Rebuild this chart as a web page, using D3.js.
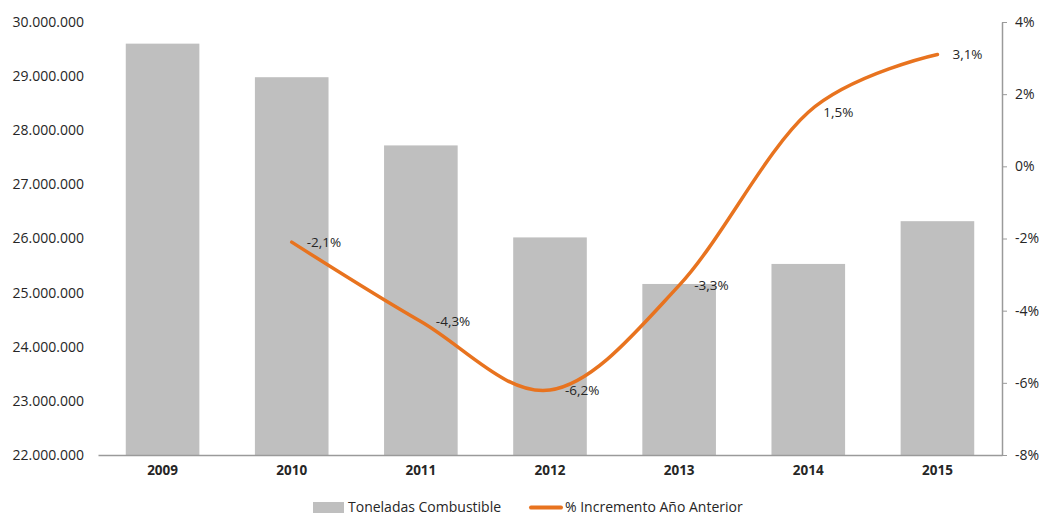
<!DOCTYPE html>
<html><head><meta charset="utf-8">
<script src="https://cdn.jsdelivr.net/npm/d3@7"></script>
<style>body{margin:0;background:#fff}svg{display:block}text{font-family:"Open Sans","Noto Sans",sans-serif;fill:#262626}</style>
</head><body><svg id="c" width="1043" height="515"></svg>
<script>
const years = ["2009","2010","2011","2012","2013","2014","2015"];
const toneladas = [29600000, 28980000, 27720000, 26020000, 25160000, 25530000, 26320000];
const pctYears = ["2010","2011","2012","2013","2014","2015"];
const pct = [-2.1, -4.3, -6.2, -3.3, 1.5, 3.1];
const leftTicks = [22000000,23000000,24000000,25000000,26000000,27000000,28000000,29000000,30000000];
const rightTicks = [-8,-6,-4,-2,0,2,4];
const seriesNames = ["Toneladas Combustible","% Incremento Año Anterior"];

const svg = d3.select("#c");
const L = 98, R = 1002, T = 22, B = 455;
const x = d3.scaleBand().domain(years).range([L, R]).paddingInner(0.43).paddingOuter(0.215);
const yL = d3.scaleLinear().domain([22000000, 30000000]).range([B, T]);
const yR = d3.scaleLinear().domain([-8, 4]).range([B, T]);
const fmt = v => d3.format(",")(v).replace(/,/g, ".");

svg.append("g").selectAll("rect").data(years).join("rect")
  .attr("x", d => x(d)).attr("width", x.bandwidth())
  .attr("y", (d,i) => yL(toneladas[i])).attr("height", (d,i) => B - yL(toneladas[i]))
  .attr("fill", "#bfbfbf");

// x axis
const gx = svg.append("g").attr("transform", `translate(0,${B})`)
  .call(d3.axisBottom(x).tickSize(0).tickPadding(10));
gx.select(".domain").attr("stroke", "#9a9a9a").attr("stroke-width", 1.5);
gx.selectAll("text").attr("font-size", 13.5).attr("font-weight", "bold").style("fill","#262626");

// left axis
const gl = svg.append("g").attr("transform", `translate(${L},0)`)
  .call(d3.axisLeft(yL).tickValues(leftTicks).tickFormat(fmt).tickSize(0).tickPadding(14));
gl.select(".domain").remove();
gl.selectAll("text").attr("font-size", 14).style("fill","#262626");

// right axis
const gr = svg.append("g").attr("transform", `translate(${R},0)`)
  .call(d3.axisRight(yR).tickValues(rightTicks).tickFormat(d => d + "%").tickSize(5).tickSizeOuter(0).tickPadding(8));
gr.select(".domain").attr("stroke", "#9a9a9a").attr("stroke-width", 1.5);
gr.selectAll("line").attr("stroke", "#9a9a9a");
gr.selectAll("text").attr("font-size", 14).style("fill","#262626");

// line
const cx = d => x(d) + x.bandwidth() / 2;
const line = d3.line().x((d,i) => cx(pctYears[i])).y(d => yR(d)).curve(d3.curveCatmullRom.alpha(0));
svg.append("path").datum(pct).attr("d", line).attr("fill", "none")
  .attr("stroke", "#e8731f").attr("stroke-width", 3.5).attr("stroke-linecap","round");

svg.append("g").selectAll("text").data(pct).join("text")
  .attr("x", (d,i) => cx(pctYears[i]) + 15).attr("y", d => yR(d)).attr("dy", "0.35em")
  .attr("font-size", 13.5).text(d => d.toFixed(1).replace(".", ",").replace("\u2212","-") + "%");

// legend
const lg = svg.append("g");
lg.append("rect").attr("x", 313).attr("y", 502).attr("width", 31).attr("height", 11).attr("fill", "#bfbfbf");
lg.append("text").attr("x", 348).attr("y", 507).attr("dy","0.35em").attr("font-size", 14).text(seriesNames[0]);
lg.append("line").attr("x1", 531).attr("x2", 561).attr("y1", 507.5).attr("y2", 507.5)
  .attr("stroke", "#e8731f").attr("stroke-width", 4).attr("stroke-linecap","round");
lg.append("text").attr("x", 565).attr("y", 507).attr("dy","0.35em").attr("font-size", 14).text(seriesNames[1]);
</script></body></html>
